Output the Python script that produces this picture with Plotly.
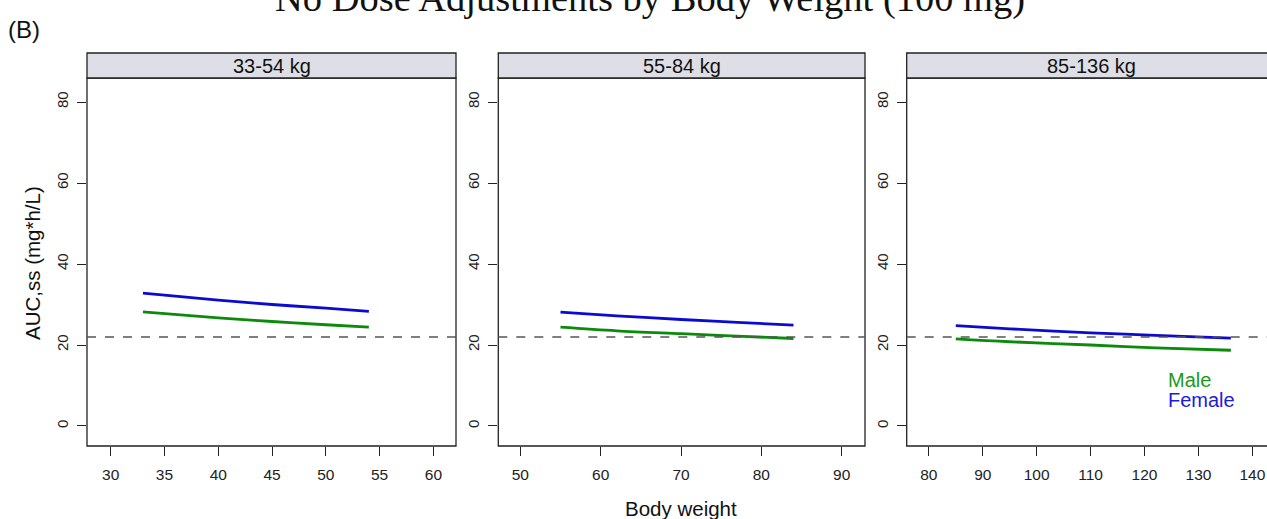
import plotly.graph_objects as go

W, H = 1267, 519

# ---------------- data ----------------
panel_labels = ["33-54 kg", "55-84 kg", "85-136 kg"]

wt_p1 = [33, 40, 45, 50, 54]
female_p1 = [32.8, 31.1, 30.0, 29.1, 28.3]
male_p1 = [28.2, 26.7, 25.8, 25.0, 24.4]

wt_p2 = [55, 62, 70, 77, 84]
female_p2 = [28.1, 27.2, 26.3, 25.6, 24.9]
male_p2 = [24.4, 23.5, 22.8, 22.2, 21.6]

wt_p3 = [85, 95, 110, 122, 136]
female_p3 = [24.8, 24.0, 23.0, 22.4, 21.7]
male_p3 = [21.5, 20.8, 20.0, 19.3, 18.7]

ref_auc = 22

x_ticks_p1 = [30, 35, 40, 45, 50, 55, 60]
x_ticks_p2 = [50, 60, 70, 80, 90]
x_ticks_p3 = [80, 90, 100, 110, 120, 130, 140]
y_ticks = [0, 20, 40, 60, 80]

# ---------------- layout helpers ----------------
def px_x(p):
    return p / W

def px_y(p):
    return 1 - p / H

SANS = "Liberation Sans, Arial, sans-serif"
PLOT_TOP, PLOT_BOT = 78, 446
STRIP_TOP = 53
panels_px = [(87, 456), (498.3, 865), (906.7, 1276)]
x_ranges = [[27.8, 62.1], [47.26, 92.9], [75.9, 142.7]]
y_range = [-4.94, 85.93]

MALE_C = "#0b8a0b"
FEMALE_C = "#0a0ad0"

fig = go.Figure()

weights = [wt_p1, wt_p2, wt_p3]
females = [female_p1, female_p2, female_p3]
males = [male_p1, male_p2, male_p3]

for i in range(3):
    xa = "x" if i == 0 else f"x{i+1}"
    ya = "y" if i == 0 else f"y{i+1}"
    fig.add_trace(go.Scatter(x=weights[i], y=males[i], mode="lines", name="Male",
                             line=dict(color=MALE_C, width=2.8, shape="spline"),
                             xaxis=xa, yaxis=ya, showlegend=False))
    fig.add_trace(go.Scatter(x=weights[i], y=females[i], mode="lines", name="Female",
                             line=dict(color=FEMALE_C, width=2.8, shape="spline"),
                             xaxis=xa, yaxis=ya, showlegend=False))

x_font = dict(family=SANS, size=15.5, color="#222")
y_font = dict(family=SANS, size=15, color="#222")
x_ticks = [x_ticks_p1, x_ticks_p2, x_ticks_p3]

layout = dict(
    width=W, height=H,
    margin=dict(l=0, r=0, t=0, b=0),
    paper_bgcolor="white", plot_bgcolor="white",
    showlegend=False,
)

for i in range(3):
    x0p, x1p = panels_px[i]
    dom_x = [px_x(x0p), min(1.0, px_x(x1p))]
    xk = "xaxis" if i == 0 else f"xaxis{i+1}"
    yk = "yaxis" if i == 0 else f"yaxis{i+1}"
    layout[xk] = dict(domain=dom_x, range=x_ranges[i], tickvals=x_ticks[i],
                      ticks="outside", ticklen=9, tickwidth=1.2, tickcolor="#222",
                      ticklabelstandoff=5,
                      showgrid=False, zeroline=False, showline=False,
                      tickfont=x_font, anchor="y" if i == 0 else f"y{i+1}",
                      fixedrange=True)
    layout[yk] = dict(domain=[px_y(PLOT_BOT), px_y(PLOT_TOP)], range=y_range,
                      tickvals=y_ticks, tickangle=-90,
                      ticks="outside", ticklen=9, tickwidth=1.2, tickcolor="#222",
                      ticklabelstandoff=3,
                      showgrid=False, zeroline=False, showline=False,
                      tickfont=y_font, anchor="x" if i == 0 else f"x{i+1}",
                      fixedrange=True)

fig.update_layout(**layout)

shapes = []
annotations = []
for i in range(3):
    x0p, x1p = panels_px[i]
    xa = "x" if i == 0 else f"x{i+1}"
    ya = "y" if i == 0 else f"y{i+1}"
    # plot box
    shapes.append(dict(type="rect", xref="paper", yref="paper",
                       x0=px_x(x0p), x1=px_x(x1p), y0=px_y(PLOT_BOT), y1=px_y(PLOT_TOP),
                       line=dict(color="#222", width=1.3), fillcolor="rgba(0,0,0,0)",
                       layer="above"))
    # strip
    shapes.append(dict(type="rect", xref="paper", yref="paper",
                       x0=px_x(x0p), x1=px_x(x1p), y0=px_y(PLOT_TOP), y1=px_y(STRIP_TOP),
                       line=dict(color="#222", width=1.3), fillcolor="#dedee6",
                       layer="above"))
    # reference dashed line
    shapes.append(dict(type="line", xref=f"{xa} domain", yref=ya,
                       x0=0, x1=1, y0=ref_auc, y1=ref_auc,
                       line=dict(color="#555", width=1.5, dash="dash"), layer="above"))
    annotations.append(dict(text=panel_labels[i], xref="paper", yref="paper",
                            x=px_x((x0p + x1p) / 2), y=px_y(66.5), showarrow=False,
                            xanchor="center", yanchor="middle",
                            font=dict(family=SANS, size=20, color="#111")))

annotations += [
    dict(text="No Dose Adjustments by Body Weight (100 mg)", xref="paper", yref="paper",
         x=px_x(650), y=px_y(22), showarrow=False, xanchor="center", yanchor="bottom",
         font=dict(family="Liberation Serif, Times New Roman, serif", size=38.5, color="#111")),
    dict(text="(B)", xref="paper", yref="paper", x=px_x(6), y=px_y(30), showarrow=False,
         xanchor="left", yanchor="middle",
         font=dict(family=SANS, size=24, color="#111")),
    dict(text="AUC,ss (mg*h/L)", xref="paper", yref="paper", x=px_x(32), y=px_y(263),
         showarrow=False, textangle=-90, xanchor="center", yanchor="middle",
         font=dict(family=SANS, size=20.5, color="#111")),
    dict(text="Body weight", xref="paper", yref="paper", x=px_x(681), y=px_y(508),
         showarrow=False, xanchor="center", yanchor="middle",
         font=dict(family=SANS, size=20.5, color="#111")),
    dict(text="Male", xref="paper", yref="paper", x=px_x(1166), y=px_y(380),
         showarrow=False, xanchor="left", yanchor="middle",
         font=dict(family=SANS, size=20, color="#1a9a1a")),
    dict(text="Female", xref="paper", yref="paper", x=px_x(1166), y=px_y(400),
         showarrow=False, xanchor="left", yanchor="middle",
         font=dict(family=SANS, size=20, color="#1a1ae0")),
]

fig.update_layout(shapes=shapes, annotations=annotations)
fig.write_html(
    "out.html",
    config={"displayModeBar": False},
    post_script="document.body.style.margin='0';document.body.style.padding='0';"
                "document.body.style.overflow='hidden';",
)
